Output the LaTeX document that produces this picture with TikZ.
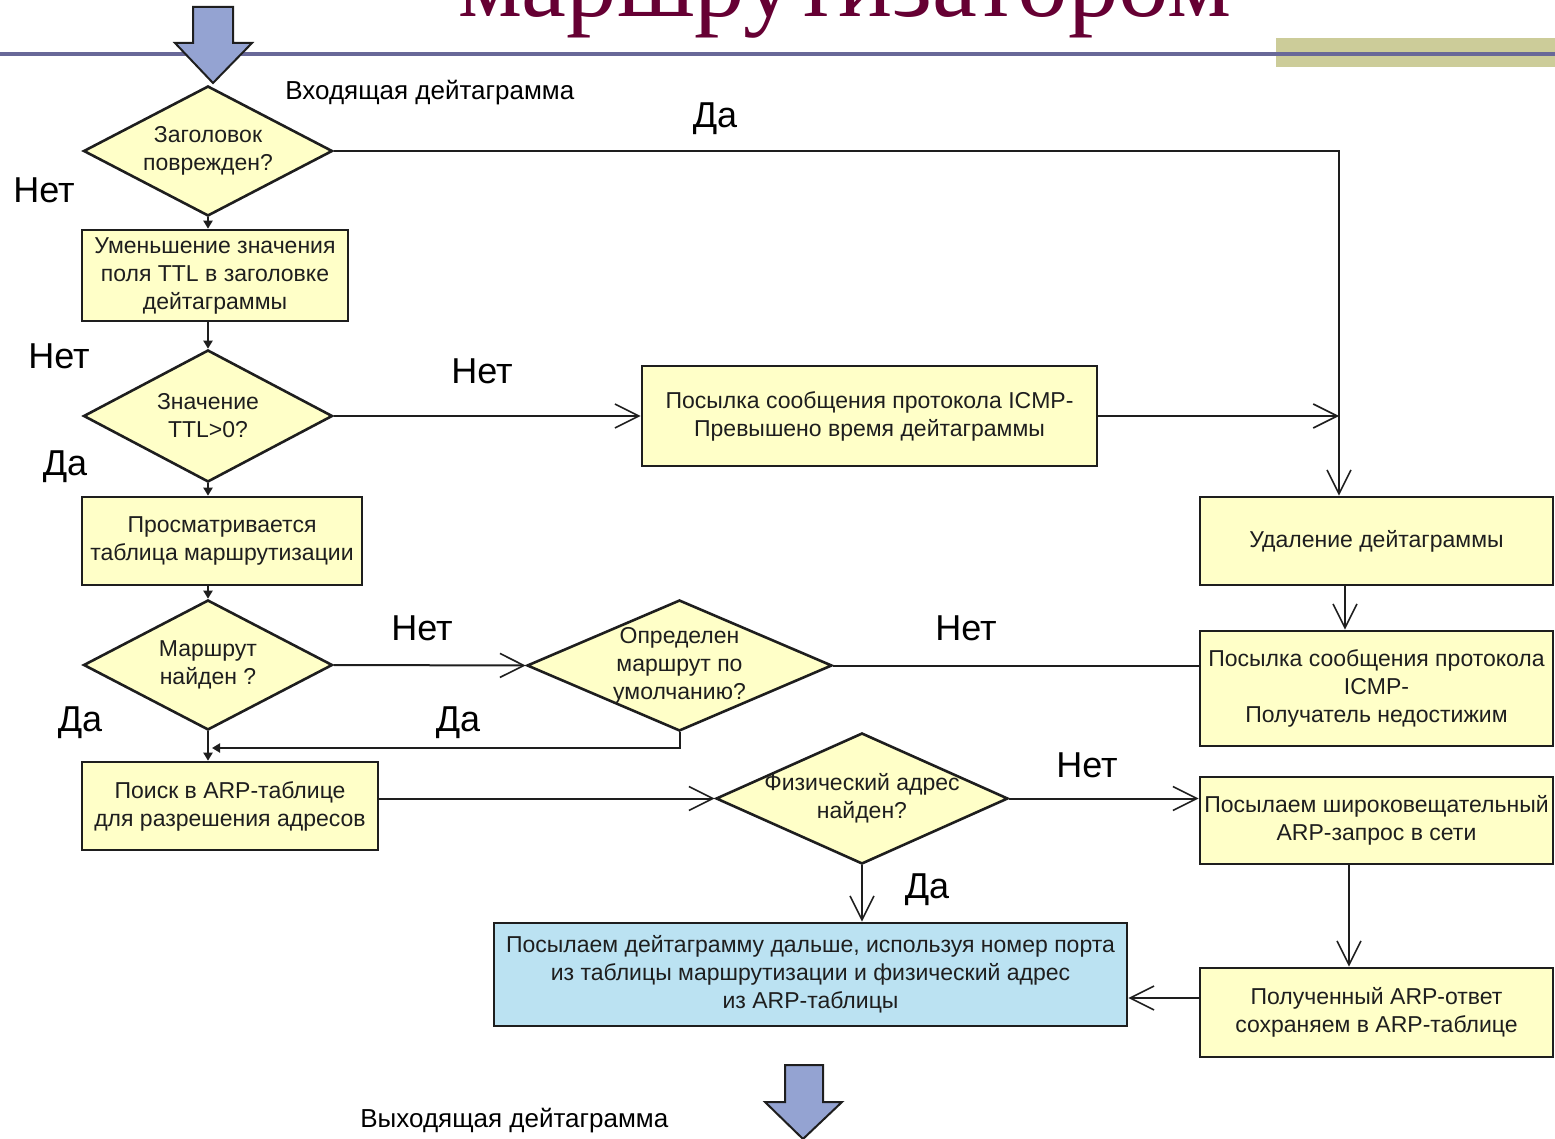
\documentclass[tikz,border=0pt]{standalone}
\usepackage{fontspec}
\setmainfont{Liberation Sans}
\newfontfamily\titlefont{Liberation Serif}
\usetikzlibrary{shapes.geometric,arrows.meta}

\definecolor{titlecol}{RGB}{102,0,51}
\definecolor{rulecol}{RGB}{104,104,152}
\definecolor{barcol}{RGB}{204,204,153}
\definecolor{procfill}{RGB}{255,255,200}
\definecolor{fwdfill}{RGB}{187,226,242}
\definecolor{arrowfill}{RGB}{148,163,210}
\definecolor{inkcol}{RGB}{30,30,30}

\begin{document}
\begin{tikzpicture}[x=0.5pt,y=-0.5pt,
  proc/.style={rectangle, draw=inkcol, line width=1.3pt, fill=procfill,
    align=center, inner sep=0pt, text=inkcol,
    font=\fontsize{11.5}{14}\selectfont},
  dec/.style={diamond, draw=inkcol, line width=1.3pt, fill=procfill,
    inner sep=0pt, aspect=1.9},
  dectext/.style={align=center, inner sep=0pt, text=inkcol,
    font=\fontsize{11.5}{14}\selectfont},
  flow/.style={draw=inkcol, line width=1pt},
  opentip/.style={-{Straight Barb[length=12pt,width=12pt,line width=0.8pt]}},
  smalltip/.style={-{Triangle[length=4pt,width=4.5pt]}},
  lbl/.style={font=\fontsize{18}{20}\selectfont, inner sep=0pt},
  note/.style={font=\fontsize{13}{15}\selectfont, inner sep=0pt},
  blockarrow/.style={fill=arrowfill, draw=inkcol, line width=1pt}
]
\useasboundingbox (0,0) rectangle (1555,1139);
\clip (0,0) rectangle (1555,1139);

% heading strip
\node[anchor=base west, inner sep=0pt, text=titlecol,
      font=\titlefont\fontsize{50.5}{50}\selectfont] (title) at (458,17) {маршрутизатором};
\fill[barcol] (1276,38) rectangle (1555,67);
\draw[rulecol, line width=2pt] (0,54) -- (1555,54);

% incoming datagram arrow
\draw[blockarrow] (193,7) -- (233,7) -- (233,43) -- (252,43) -- (213,83)
  -- (175,43) -- (193,43) -- cycle;
\node[note, anchor=west] (inlbl) at (285,93) {Входящая дейтаграмма};

% left column
\node[dec, minimum width=124.5pt, minimum height=65pt,
      label={[dectext]center:Заголовок\\поврежден?}] (d1) at (208,151) {};
\node[proc, minimum width=133pt, minimum height=45.5pt] (b1) at (215,275.5) {Уменьшение значения\\поля TTL в заголовке\\дейтаграммы};
\node[dec, minimum width=124.5pt, minimum height=66pt,
      label={[dectext]center:Значение\\TTL>0?}] (d2) at (208,416) {};
\node[proc, minimum width=140pt, minimum height=44pt] (b2) at (222,541) {Просматривается\\таблица маршрутизации};
\node[dec, minimum width=124.5pt, minimum height=65pt,
      label={[dectext]center:Маршрут\\найден ?}] (d3) at (208,665) {};
\node[proc, minimum width=148pt, minimum height=44pt] (b3) at (230,806) {Поиск в ARP-таблице\\для разрешения адресов};

% middle
\node[proc, minimum width=227.5pt, minimum height=50pt] (icmp1) at (869.5,416) {Посылка сообщения протокола ICMP-\\Превышено время дейтаграммы};
\node[dec, minimum width=152.5pt, minimum height=65.5pt,
      label={[dectext]center:Определен\\маршрут по\\умолчанию?}] (d4) at (679.5,665.5) {};
\node[dec, minimum width=146pt, minimum height=65.5pt,
      label={[dectext]center:Физический адрес\\найден?}] (d5) at (862,798.5) {};
\node[proc, fill=fwdfill, minimum width=316.5pt, minimum height=51.5pt] (fwd) at (810.5,974.5) {Посылаем дейтаграмму дальше, используя номер порта\\из таблицы маршрутизации и физический адрес\\из ARP-таблицы};

% right column
\node[proc, minimum width=176.5pt, minimum height=44pt] (del) at (1376.5,541) {Удаление дейтаграммы};
\node[proc, minimum width=176.5pt, minimum height=57.5pt] (icmp2) at (1376.5,688.5) {Посылка сообщения протокола\\ICMP-\\Получатель недостижим};
\node[proc, minimum width=176.5pt, minimum height=43.5pt] (arpq) at (1376.5,820.5) {Посылаем широковещательный\\ARP-запрос в сети};
\node[proc, minimum width=176.5pt, minimum height=44.5pt] (arpr) at (1376.5,1012.5) {Полученный ARP-ответ\\сохраняем в ARP-таблице};

% outgoing datagram arrow
\draw[blockarrow] (785,1065) -- (823,1065) -- (823,1102) -- (842,1102) -- (803,1139)
  -- (765,1102) -- (785,1102) -- cycle;
\node[note, anchor=west] (outlbl) at (360,1121) {Выходящая дейтаграмма};

% routing helpers
\coordinate (rx) at (1339,151);
\coordinate (xa) at (1345,0);
\coordinate (xb) at (1349,0);
\coordinate (jn) at (208,748);
\coordinate (yr) at (0,998);

% connectors
\draw[flow, opentip] (d1.east) -- (rx) -- (rx |- del.north);
\draw[flow, smalltip] (d1.south) -- (d1.south |- b1.north);
\draw[flow, smalltip] (b1.south -| d2.north) -- (d2.north);
\draw[flow, opentip] (d2.east) -- (icmp1.west);
\draw[flow, opentip] (icmp1.east) -- (icmp1.east -| rx);
\draw[flow, smalltip] (d2.south) -- (d2.south |- b2.north);
\draw[flow, smalltip] (b2.south -| d3.north) -- (d3.north);
\draw[flow, opentip] (d3.east) -- (d4.west);
\draw[flow, smalltip] (d3.south) -- (d3.south |- b3.north);
\draw[flow, smalltip] (d4.south) |- ([xshift=2pt]jn);
\draw[flow] (d4.east) -- (d4.east -| icmp2.west);
\draw[flow, opentip] (d5.west -| b3.east) -- (d5.west);
\draw[flow, opentip] (d5.east) -- (d5.east -| arpq.west);
\draw[flow, opentip] (d5.south) -- (d5.south |- fwd.north);
\draw[flow, opentip] (del.south -| xa) -- (icmp2.north -| xa);
\draw[flow, opentip] (arpq.south -| xb) -- (arpr.north -| xb);
\draw[flow, opentip] (arpr.west |- yr) -- (fwd.east |- yr);

% branch labels
\node[lbl] (l1) at (715,119) {Да};
\node[lbl] (l2) at (44,190) {Нет};
\node[lbl] (l3) at (59,356) {Нет};
\node[lbl] (l4) at (482,371) {Нет};
\node[lbl] (l5) at (65,467) {Да};
\node[lbl] (l6) at (422,628) {Нет};
\node[lbl] (l7) at (966,628) {Нет};
\node[lbl] (l8) at (80,723) {Да};
\node[lbl] (l9) at (458,723) {Да};
\node[lbl] (l10) at (1087,765) {Нет};
\node[lbl] (l11) at (927,890) {Да};
\end{tikzpicture}
\end{document}
